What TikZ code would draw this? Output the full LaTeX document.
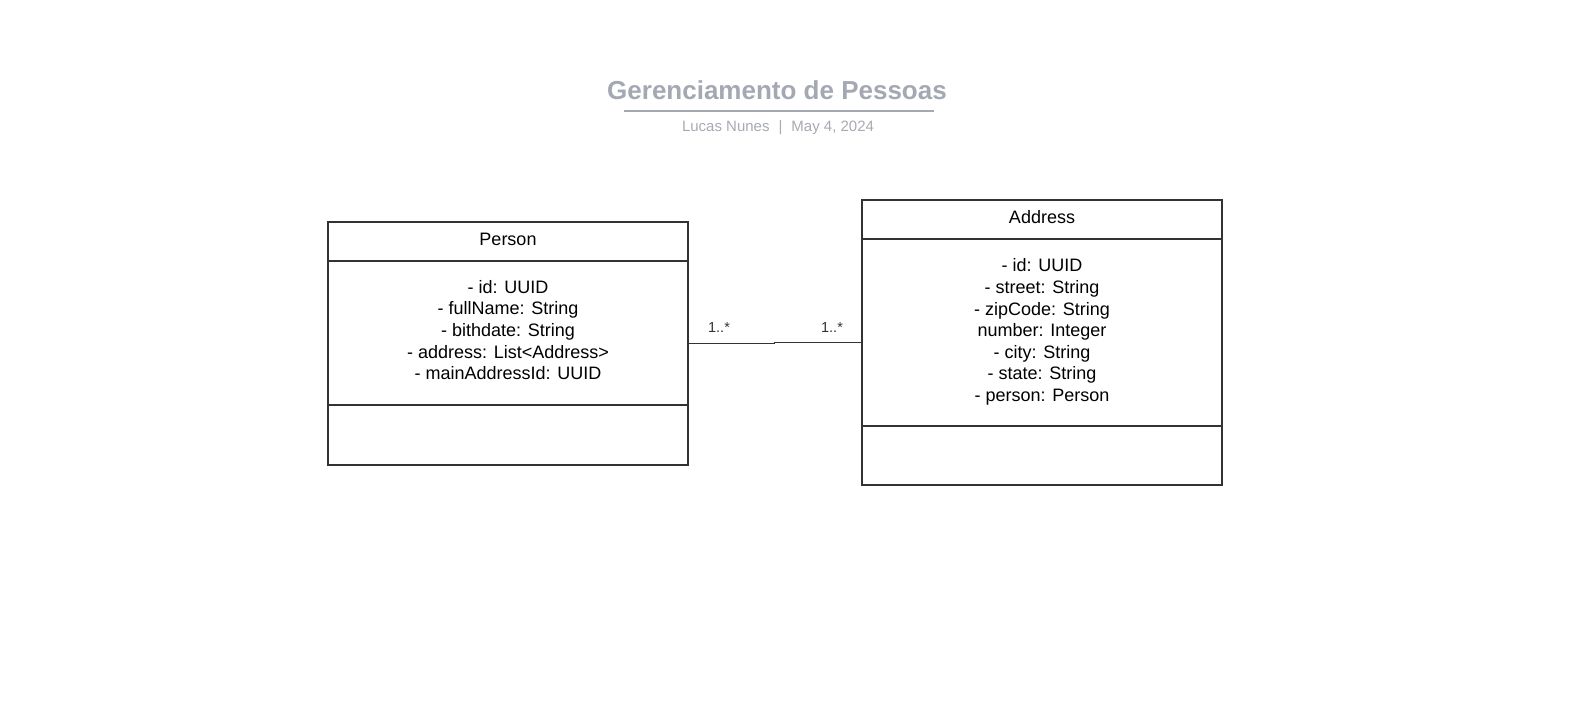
\documentclass[tikz,border=0pt]{standalone}
\usepackage{fontspec}
\setmainfont{Liberation Sans}
\definecolor{titlegray}{HTML}{A3A8B3}
\definecolor{subgray}{HTML}{A6AAB2}
\definecolor{boxline}{HTML}{333333}
\begin{document}
\begin{tikzpicture}[x=1pt,y=-1pt,
  umlbox/.style={draw=boxline, line width=1.8pt, rectangle, inner sep=0pt},
  divider/.style={draw=boxline, line width=1.8pt},
  cls/.style={font=\fontsize{18}{21.6}\selectfont, align=center, inner sep=0pt, text=black},
  mult/.style={font=\fontsize{14.5}{17}\selectfont, text=boxline, inner sep=0pt},
  assoc/.style={draw=boxline, line width=0.9pt}]
\useasboundingbox (0,0) rectangle (1584,717);
% title
\node[font=\fontsize{26}{30}\bfseries, text=titlegray, inner sep=0pt] (title) at (777,90) {Gerenciamento de Pessoas};
\coordinate (ulL) at (624,110.5);
\coordinate (ulR) at (934,110.5);
\draw[titlegray, line width=2pt] (ulL) -- (ulR);
\node[font=\fontsize{15}{18}\selectfont, text=subgray, inner sep=0pt] (sub) at (778,128)
  {Lucas Nunes\hspace{0.6em}|\hspace{0.6em}May 4, 2024};
% Person
\node[umlbox, minimum width=360, minimum height=243] (person) at (508,343.5) {};
\draw[divider] (328,261) -- (688,261);
\draw[divider] (328,405) -- (688,405);
\node[cls] (personname) at (508,239) {Person};
\node[cls] (personattr) at (508,330)
  {- id: UUID\\- fullName: String\\- bithdate: String\\- address: List<Address>\\- mainAddressId: UUID};
% Address
\node[umlbox, minimum width=360, minimum height=285] (address) at (1042,342.5) {};
\draw[divider] (862,239) -- (1222,239);
\draw[divider] (862,426) -- (1222,426);
\node[cls] (addressname) at (1042,217) {Address};
\node[cls] (addressattr) at (1042,332)
  {- id: UUID\\- street: String\\- zipCode: String\\number: Integer\\- city: String\\- state: String\\- person: Person};
% association
\coordinate (mid) at (774,343);
\draw[assoc] (person.east) -| (mid) |- (address.west);
\node[mult] (m1) at (719,328) {1..*};
\node[mult] (m2) at (832,328) {1..*};
\end{tikzpicture}
\end{document}
